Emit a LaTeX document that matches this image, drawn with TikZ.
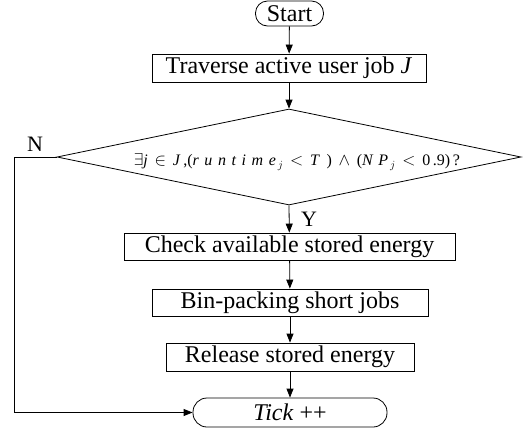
\documentclass[tikz,border=0pt]{standalone}
\usepackage{fontspec}
\setmainfont{Liberation Serif}
\newfontfamily\spc[LetterSpace=35]{Liberation Serif}
\usetikzlibrary{shapes.geometric,arrows.meta}
\tikzset{
  box/.style={draw, line width=0.8pt, rectangle, inner sep=0pt, font=\fontsize{24}{28}\selectfont},
  term/.style={draw, line width=0.8pt, rectangle, rounded corners=12pt, inner sep=0pt, font=\fontsize{24}{28}\selectfont},
  lbl/.style={inner sep=0pt, font=\fontsize{22}{26}\selectfont},
  arr/.style={line width=0.8pt, -{Triangle[length=9pt,width=7pt]}},
}
\newcommand{\gp}{\hspace{0.42em}}
\begin{document}
\begin{tikzpicture}[x=1pt,y=-1pt]
\useasboundingbox (0,0) rectangle (523,429);
\node[term, minimum width=68pt, minimum height=25pt] (start) at (289.5,13.5) {Start};
\node[box, minimum width=274pt, minimum height=28pt] (trav) at (289,68) {Traverse active user job \textit{J}};
\node[draw, line width=0.8pt, diamond, minimum width=464pt, minimum height=96pt, inner sep=0pt] (dec) at (289,157) {};
\node[inner sep=0pt, font=\fontsize{16}{19}\selectfont] (dtext) at (297,162)
 {$\exists$\textit{j}\gp$\in$\gp\textit{J}\,,({\spc\itshape runtime}$_{\,j}$\gp$<$\gp\textit{T}\gp)\gp$\wedge$\gp({\spc\itshape NP}$_{\,j}$\gp$<$\gp0\,.9)\,?};
\node[box, minimum width=331pt, minimum height=27pt] (check) at (289.5,246.5) {Check available stored energy};
\node[box, minimum width=276pt, minimum height=27pt] (bin) at (290,302.5) {Bin-packing short jobs};
\node[box, minimum width=248pt, minimum height=28pt] (rel) at (290,357) {Release stored energy};
\node[term, rounded corners=14pt, minimum width=194pt, minimum height=29pt] (tick) at (290,412.5) {\textit{Tick} ++};
\node[lbl] (nlab) at (35,144) {N};
\node[lbl] (ylab) at (309,219) {Y};
\coordinate (lp) at (14,157);
\draw[arr] (start) -- (trav);
\draw[arr] (trav) -- (dec.north);
\draw[arr] (dec.south) -- (check);
\draw[arr] (check) -- (bin);
\draw[arr] (bin) -- (rel);
\draw[arr] (rel) -- (tick);
\draw[arr] (dec.west) -- (lp) |- (tick.west);
\end{tikzpicture}
\end{document}
